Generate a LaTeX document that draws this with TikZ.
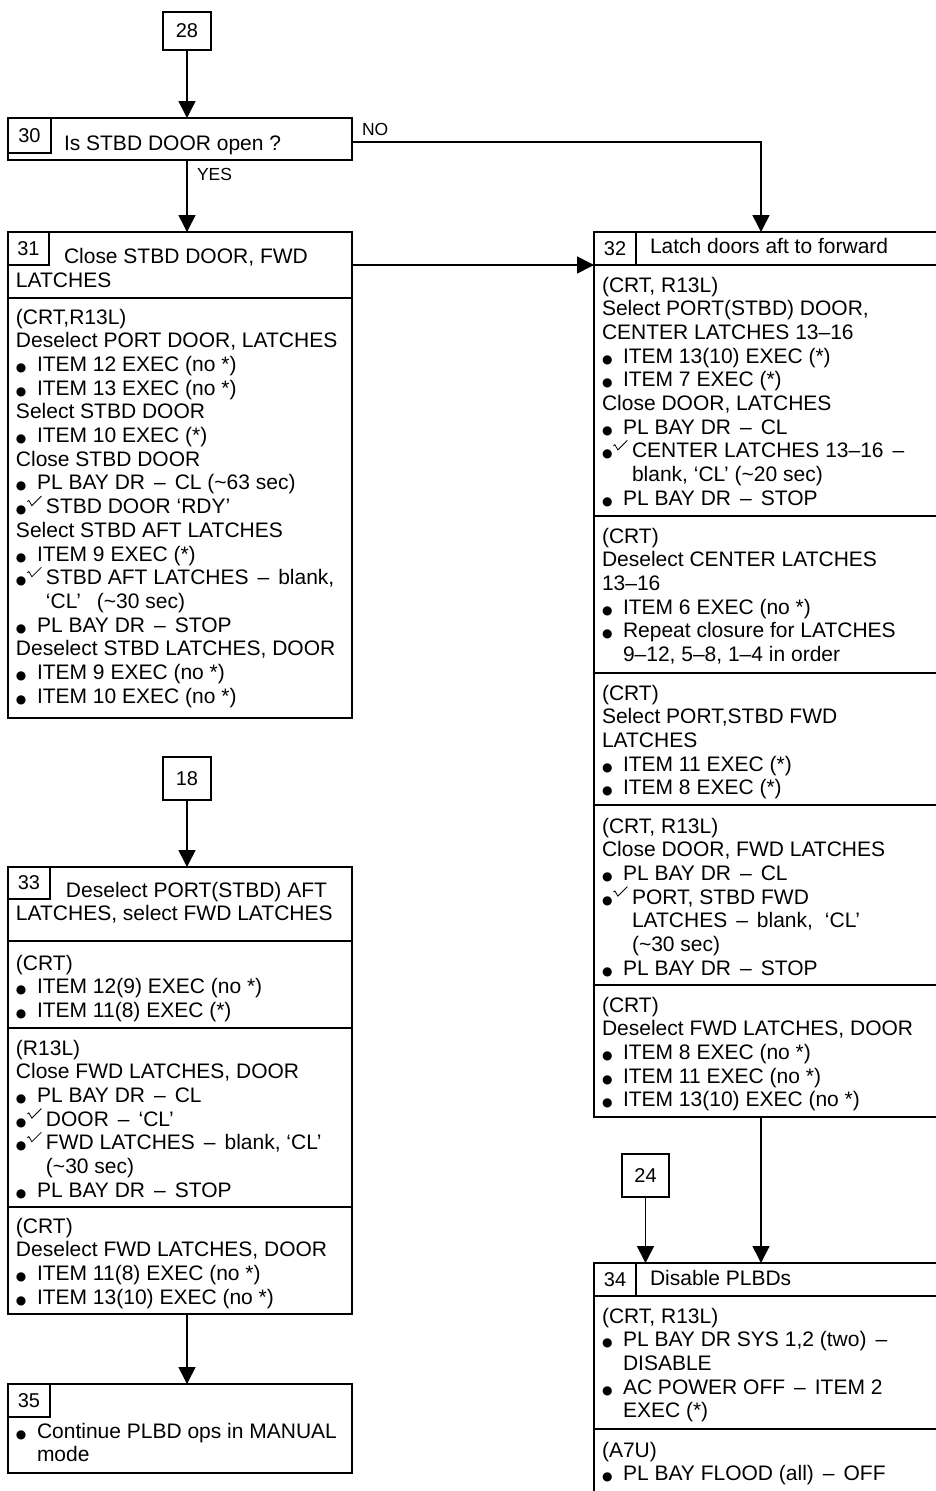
\documentclass[tikz,border=0pt]{standalone}
\usepackage{fontspec}
\setmainfont{Liberation Sans}
\newfontfamily\dvs{DejaVu Sans}
\usetikzlibrary{arrows.meta,fit}
\newcommand\blt{{\dvs\fontsize{12}{12}\selectfont ●}}
\newcommand\bul{\makebox[21pt][l]{\blt}}
\newcommand\chkmark{\smash{\tikz[baseline=0pt,x=1pt,y=1pt]{\draw[line width=0.8pt,line join=miter] (0,12) -- (1.5,13.2) -- (4.5,8) -- (14,17.5);}}}
\newcommand\chk{\makebox[30pt][l]{\blt\hspace{0.5pt}\chkmark}}
\newcommand\dsh{\hspace{9pt}–\hspace{9pt}}
\newcommand\lns[1]{\begin{tabular}[t]{@{}l@{}}#1\end{tabular}}
\tikzset{
 frame/.style={draw, line width=1.8pt, inner sep=0pt, outer sep=0pt},
 cell/.style={draw, line width=1.3pt, inner sep=0pt, outer sep=0pt, font=\fontsize{20}{24}\selectfont},
 numbox/.style={draw, line width=1.4pt, inner sep=0pt, outer sep=0pt, font=\fontsize{20}{24}\selectfont},
 txt/.style={anchor=base west, inner sep=0pt, outer sep=0pt, font=\fontsize{21}{23.7}\selectfont},
 lbl/.style={anchor=base west, inner sep=0pt, outer sep=0pt, font=\fontsize{17.5}{20}\selectfont},
 flow/.style={line width=1.6pt, -{Triangle[length=17pt,width=17pt]}},
}
\begin{document}
\begin{tikzpicture}[x=1pt,y=-1pt]
\clip (0,0) rectangle (936,1491);
\fill[white] (0,0) rectangle (936,1491);
\coordinate (col) at (761,0);
% ---------- left column ----------
\node[numbox, minimum width=48pt, minimum height=38pt] (n28) at (187,31) {28};
\node[frame, fit={(8,118)(352,160)}] (b30) {};
\node[cell, minimum width=43pt, minimum height=35pt] (c30) at (29.5,135.5) {30};
\node[txt] (t30) at (64,150) {Is STBD DOOR open ?};

\node[frame, fit={(8,232)(352,298)}] (b31h) {};
\node[cell, minimum width=41pt, minimum height=33pt] (c31) at (28.5,248.5) {31};
\node[txt] (t31h) at (16,263) {\lns{\hspace*{48pt}Close STBD DOOR, FWD\\[1pt] LATCHES}};
\node[frame, fit={(8,298)(352,718)}] (b31b) {};
\node[txt] (t31b) at (16,324) {\lns{(CRT,R13L)\\
Deselect PORT DOOR, LATCHES\\
\bul ITEM 12 EXEC (no *)\\
\bul ITEM 13 EXEC (no *)\\
Select STBD DOOR\\
\bul ITEM 10 EXEC (*)\\
Close STBD DOOR\\
\bul PL BAY DR\dsh CL (\textasciitilde63 sec)\\
\chk STBD DOOR ‘RDY’\\
Select STBD AFT LATCHES\\
\bul ITEM 9 EXEC (*)\\
\chk STBD AFT LATCHES\dsh blank,\\
\hspace*{30pt}‘CL’\hspace{16pt}(\textasciitilde30 sec)\\
\bul PL BAY DR\dsh STOP\\
Deselect STBD LATCHES, DOOR\\
\bul ITEM 9 EXEC (no *)\\
\bul ITEM 10 EXEC (no *)}};

\node[numbox, minimum width=48pt, minimum height=43pt] (n18) at (187,778.5) {18};
\node[frame, fit={(8,867)(352,941)}] (b33h) {};
\node[cell, minimum width=42pt, minimum height=32pt] (c33) at (29,883) {33};
\node[txt] (t33h) at (16,897) {\lns{\hspace*{50pt}Deselect PORT(STBD) AFT\\ LATCHES, select FWD LATCHES}};
\node[frame, fit={(8,941)(352,1028)}] (b33a) {};
\node[txt] (t33a) at (16,970) {\lns{(CRT)\\
\bul ITEM 12(9) EXEC (no *)\\
\bul ITEM 11(8) EXEC (*)}};
\node[frame, fit={(8,1028)(352,1207)}] (b33b) {};
\node[txt] (t33b) at (16,1055) {\lns{(R13L)\\
Close FWD LATCHES, DOOR\\
\bul PL BAY DR\dsh CL\\
\chk DOOR\dsh ‘CL’\\
\chk FWD LATCHES\dsh blank, ‘CL’\\
\hspace*{30pt}(\textasciitilde30 sec)\\
\bul PL BAY DR\dsh STOP}};
\node[frame, fit={(8,1207)(352,1314)}] (b33c) {};
\node[txt] (t33c) at (16,1233) {\lns{(CRT)\\
Deselect FWD LATCHES, DOOR\\
\bul ITEM 11(8) EXEC (no *)\\
\bul ITEM 13(10) EXEC (no *)}};

\node[frame, fit={(8,1384)(352,1473)}] (b35) {};
\node[cell, minimum width=42pt, minimum height=33pt] (c35) at (29,1400.5) {35};
\node[txt] (t35) at (16,1438) {\lns{\bul Continue PLBD ops in MANUAL\\
\hspace*{21pt}mode}};

% ---------- right column ----------
\node[frame, fit={(594,232)(945,265)}] (b32h) {};
\node[cell, minimum width=42pt, minimum height=33pt] (c32) at (615,248.5) {32};
\node[txt] (t32h) at (650,253) {Latch doors aft to forward};
\node[frame, fit={(594,265)(945,516)}] (b32a) {};
\node[txt] (t32a) at (602,292) {\lns{(CRT, R13L)\\
Select PORT(STBD) DOOR,\\
CENTER LATCHES 13–16\\
\bul ITEM 13(10) EXEC (*)\\
\bul ITEM 7 EXEC (*)\\
Close DOOR, LATCHES\\
\bul PL BAY DR\dsh CL\\
\chk CENTER LATCHES 13–16\dsh\\
\hspace*{30pt}blank, ‘CL’ (\textasciitilde20 sec)\\
\bul PL BAY DR\dsh STOP}};
\node[frame, fit={(594,516)(945,673)}] (b32b) {};
\node[txt] (t32b) at (602,543) {\lns{(CRT)\\
Deselect CENTER LATCHES\\
13–16\\
\bul ITEM 6 EXEC (no *)\\
\bul Repeat closure for LATCHES\\
\hspace*{21pt}9–12, 5–8, 1–4 in order}};
\node[frame, fit={(594,673)(945,805)}] (b32c) {};
\node[txt] (t32c) at (602,700) {\lns{(CRT)\\
Select PORT,STBD FWD\\
LATCHES\\
\bul ITEM 11 EXEC (*)\\
\bul ITEM 8 EXEC (*)}};
\node[frame, fit={(594,805)(945,985)}] (b32d) {};
\node[txt] (t32d) at (602,833) {\lns{(CRT, R13L)\\
Close DOOR, FWD LATCHES\\
\bul PL BAY DR\dsh CL\\
\chk PORT, STBD FWD\\
\hspace*{30pt}LATCHES\dsh blank,\hspace{12pt}‘CL’\\
\hspace*{30pt}(\textasciitilde30 sec)\\
\bul PL BAY DR\dsh STOP}};
\node[frame, fit={(594,985)(945,1117)}] (b32e) {};
\node[txt] (t32e) at (602,1012) {\lns{(CRT)\\
Deselect FWD LATCHES, DOOR\\
\bul ITEM 8 EXEC (no *)\\
\bul ITEM 11 EXEC (no *)\\
\bul ITEM 13(10) EXEC (no *)}};

\node[numbox, minimum width=47pt, minimum height=43pt] (n24) at (645.5,1175.5) {24};
\node[frame, fit={(594,1263)(945,1296)}] (b34h) {};
\node[cell, minimum width=42pt, minimum height=33pt] (c34) at (615,1279.5) {34};
\node[txt] (t34h) at (650,1285) {Disable PLBDs};
\node[frame, fit={(594,1296)(945,1429)}] (b34a) {};
\node[txt] (t34a) at (602,1323) {\lns{(CRT, R13L)\\
\bul PL BAY DR SYS 1,2 (two)\dsh\\
\hspace*{21pt}DISABLE\\
\bul AC POWER OFF\dsh ITEM 2\\
\hspace*{21pt}EXEC (*)}};
\node[frame, fit={(594,1429)(945,1530)}] (b34b) {};
\node[txt] (t34b) at (602,1457) {\lns{(A7U)\\
\bul PL BAY FLOOD (all)\dsh OFF}};

% ---------- connectors ----------
\draw[flow] (n28.south) -- (n28.south |- b30.north);
\draw[flow] (n28.south |- b30.south) -- (n28.south |- b31h.north);
\node[lbl] (yes) at (197,180.5) {YES};
\draw[flow] ([yshift=-3pt]b30.east) -| (b32h.north -| col);
\node[lbl] (no) at (362,135) {NO};
\draw[flow] (b31h.east) -- (b31h.east -| b32h.west);
\draw[flow] (n18.south) -- (n18.south |- b33h.north);
\draw[flow] (n18.south |- b33c.south) -- (n18.south |- b35.north);
\draw[flow] (n24.south) -- (n24.south |- b34h.north);
\draw[flow] (b32e.south -| col) -- (b34h.north -| col);
\end{tikzpicture}
\end{document}
